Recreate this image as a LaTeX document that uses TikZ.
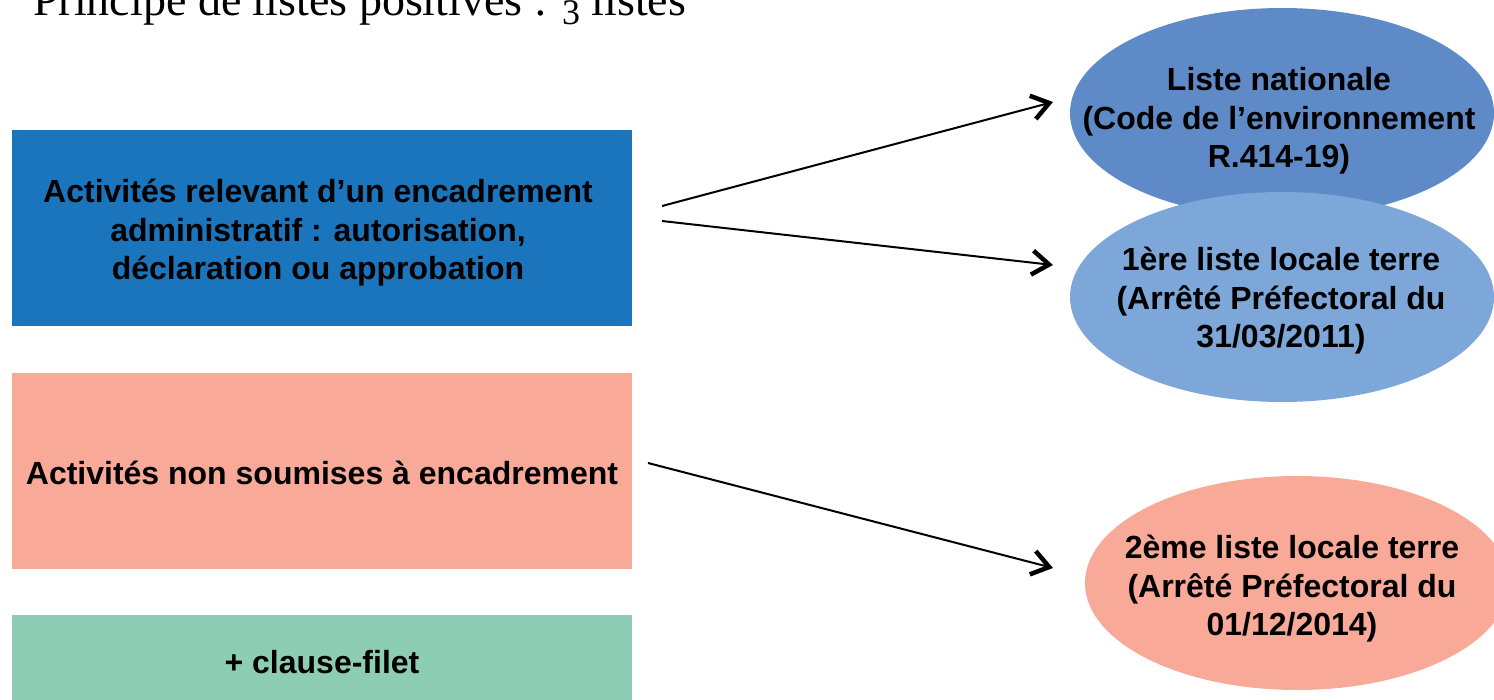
\documentclass[tikz,border=0pt]{standalone}
\usepackage{fontspec}
\setmainfont{Liberation Sans}
\newfontfamily\titlefont{Liberation Serif}
\usetikzlibrary{arrows.meta,shapes.geometric}
\definecolor{rblue}{HTML}{1B75BC}
\definecolor{salmon}{HTML}{F8A998}
\definecolor{mint}{HTML}{8DCDB5}
\definecolor{eblue}{HTML}{5E8AC7}
\definecolor{lblue}{HTML}{7DA7D9}
\begin{document}
\begin{tikzpicture}[x=1pt,y=-1pt,
  box/.style={rectangle, inner sep=0pt, minimum width=620pt, minimum height=196pt},
  oval/.style={ellipse, inner sep=0pt, minimum width=424pt},
  lbl/.style={font=\fontsize{32}{38.5}\selectfont\bfseries, align=center, text=black, inner sep=0pt},
  conn/.style={line width=2pt, -{Straight Barb[length=17pt,width=24pt,line width=4.5pt]}}]
\useasboundingbox (0,0) rectangle (1494,699);
\clip (0,0) rectangle (1494,699);
\fill[white] (0,0) rectangle (1494,699);

% title (cut at the top)
\node[anchor=base west, inner sep=0pt, font=\titlefont\fontsize{46}{50}\selectfont] (title) at (33,15)
  {Principe de listes positives : \raisebox{-0.2em}{\fontsize{36}{36}\selectfont 3} listes};

% left boxes
\node[box, fill=rblue] (r1) at (322,228) {};
\node[lbl] (tr1) at (318,233)
  {Activités relevant d’un encadrement\\administratif : autorisation,\\déclaration ou approbation};
\node[box, fill=salmon] (r2) at (322,470.5) {};
\node[lbl] (tr2) at (322,472.5) {Activités non soumises à encadrement};
\node[box, fill=mint, minimum height=94pt] (r3) at (322,662) {};
\node[lbl] (tr3) at (322,662) {+ clause-filet};

% ellipses
\node[oval, fill=eblue, minimum height=210pt] (o1) at (1282,113) {};
\node[lbl] (t1) at (1279,121) {Liste nationale\\(Code de l’environnement\\R.414-19)};
\node[oval, fill=lblue, minimum height=210pt] (o2) at (1282,297) {};
\node[lbl] (t2) at (1281,301) {1ère liste locale terre\\(Arrêté Préfectoral du\\31/03/2011)};
\node[oval, fill=salmon, minimum height=214pt] (o3) at (1297,583) {};
\node[lbl] (t3) at (1292,589) {2ème liste locale terre\\(Arrêté Préfectoral du\\01/12/2014)};

% connectors
\coordinate (s1) at (662,206);
\coordinate (s2) at (662,221);
\coordinate (s3) at (648,463);
\coordinate (e1) at (1053,102);
\coordinate (e2) at (1053,265);
\coordinate (e3) at (1053,568);
\draw[conn] (s1) -- (e1);
\draw[conn] (s2) -- (e2);
\draw[conn] (s3) -- (e3);
\end{tikzpicture}
\end{document}
